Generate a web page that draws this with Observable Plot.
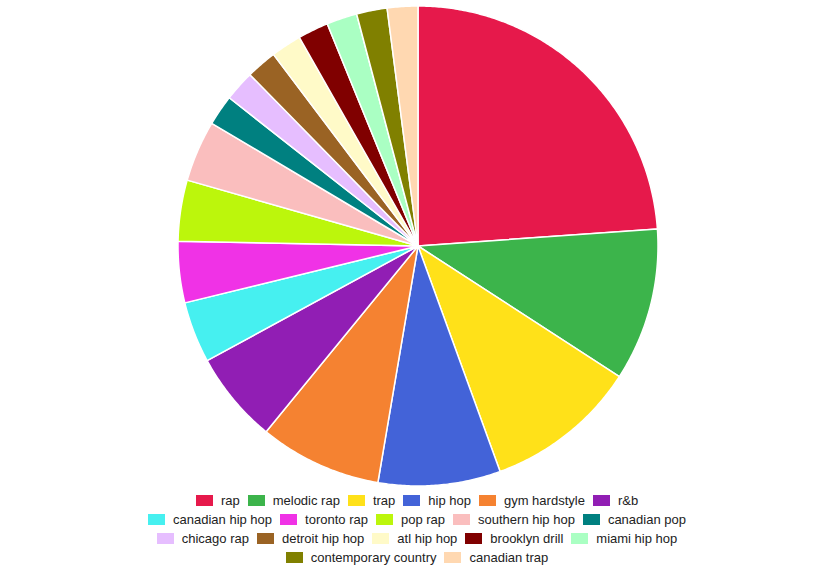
<!DOCTYPE html>
<html>
<head>
<meta charset="utf-8">
<script src="https://cdn.jsdelivr.net/npm/d3@7"></script>
<script src="https://cdn.jsdelivr.net/npm/@observablehq/plot@0.6"></script>
<style>
  html, body { margin: 0; padding: 0; background: #fff; }
  #chart svg { display: block; }
  .legend { width: 810px; margin-left: 12px; padding-top: 1px; font-family: "Liberation Sans", Arial, sans-serif; font-size: 13px; color: #222; }
  .legend .row { display: flex; justify-content: center; align-items: center; height: 19px; line-height: 19px; white-space: nowrap; }
  .legend .item { display: flex; align-items: center; }
  .legend .item + .item { margin-left: 8px; }
  .legend .sw { display: inline-block; width: 17px; height: 11px; margin-right: 8px; }
</style>
</head>
<body>
<div id="chart"></div>
<script>
// Genres (categories), in drawing order clockwise from 12 o'clock
const genres = [
  "rap", "melodic rap", "trap", "hip hop", "gym hardstyle", "r&b",
  "canadian hip hop", "toronto rap", "pop rap", "southern hip hop", "canadian pop",
  "chicago rap", "detroit hip hop", "atl hip hop", "brooklyn drill", "miami hip hop",
  "contemporary country", "canadian trap"
];
// Slice values
const values = [
  11.6, 5, 5, 4, 4, 3,
  2, 2, 2, 2, 1,
  1, 1, 1, 1, 1,
  1, 1
];
// Slice colours
const colors = [
  "#e6194b", "#3cb44b", "#ffe119", "#4363d8", "#f58231", "#911eb4",
  "#46f0f0", "#f032e6", "#bcf60c", "#fabebe", "#008080",
  "#e6beff", "#9a6324", "#fffac8", "#800000", "#aaffc3",
  "#808000", "#ffd8b1"
];
// Legend layout: number of entries per legend row
const legendRows = [6, 5, 5, 2];

const data = genres.map((g, i) => ({genre: g, value: values[i]}));
const arcs = d3.pie().sort(null).value(d => d.value)(data);

// Turn each slice into a closed outline in unit-circle coordinates
const points = [];
for (const a of arcs) {
  const g = a.data.genre;
  points.push({genre: g, x: 0, y: 0});
  const n = Math.max(2, Math.ceil((a.endAngle - a.startAngle) / (Math.PI / 360)));
  for (let k = 0; k <= n; k++) {
    const t = a.startAngle + (a.endAngle - a.startAngle) * k / n;
    points.push({genre: g, x: Math.sin(t), y: Math.cos(t)});
  }
}

const chart = Plot.plot({
  width: 822,
  height: 490,
  marginLeft: 177.5,
  marginRight: 164.5,
  marginTop: 5.5,
  marginBottom: 4.5,
  x: {domain: [-1, 1], axis: null},
  y: {domain: [-1, 1], axis: null},
  color: {domain: genres, range: colors},
  marks: [
    Plot.line(points, {
      x: "x", y: "y", z: "genre", fill: "genre",
      stroke: "white", strokeWidth: 1.5, strokeLinejoin: "round",
      curve: "linear-closed"
    })
  ]
});
document.getElementById("chart").appendChild(chart);

// Legend
const legend = document.createElement("div");
legend.className = "legend";
let idx = 0;
for (const count of legendRows) {
  const row = document.createElement("div");
  row.className = "row";
  for (let j = 0; j < count; j++, idx++) {
    const item = document.createElement("div");
    item.className = "item";
    const sw = document.createElement("span");
    sw.className = "sw";
    sw.style.background = colors[idx];
    const label = document.createElement("span");
    label.textContent = genres[idx];
    item.appendChild(sw);
    item.appendChild(label);
    row.appendChild(item);
  }
  legend.appendChild(row);
}
document.getElementById("chart").appendChild(legend);
</script>
</body>
</html>
